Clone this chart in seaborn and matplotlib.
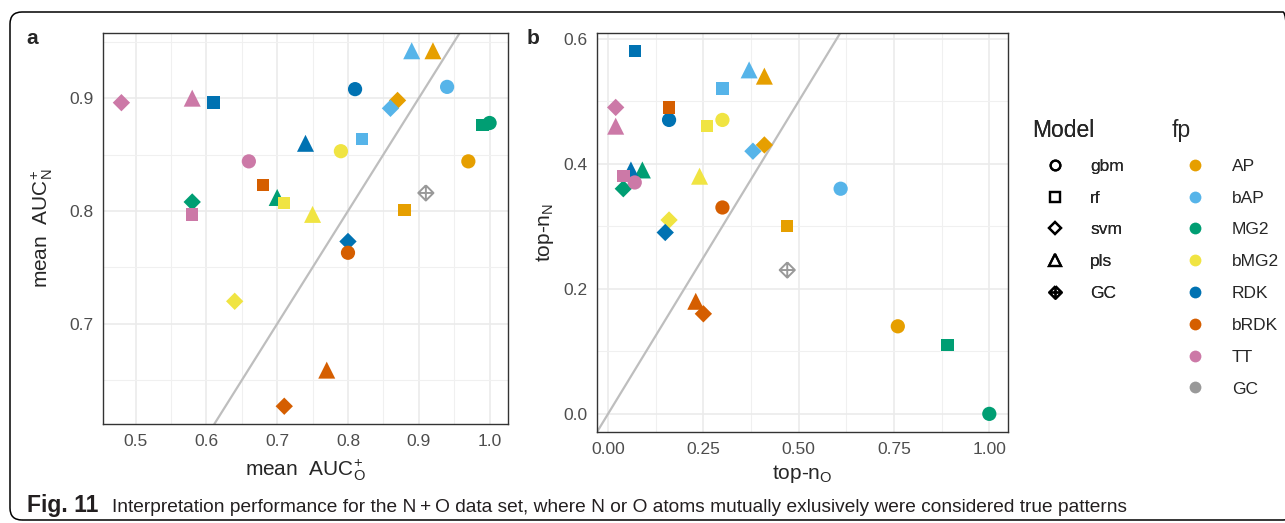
import numpy as np
import pandas as pd
import matplotlib
matplotlib.use("Agg")
import matplotlib.pyplot as plt
import seaborn as sns
from matplotlib.path import Path
from matplotlib.lines import Line2D
from matplotlib.patches import FancyBboxPatch
from matplotlib.ticker import FormatStrFormatter
from matplotlib import font_manager

# ---------------- data ----------------
fp = (["AP"] * 4 + ["bAP"] * 4 + ["MG2"] * 4 + ["bMG2"] * 4 +
      ["RDK"] * 4 + ["bRDK"] * 4 + ["TT"] * 4 + ["GC"])
model = ["gbm", "rf", "svm", "pls"] * 7 + ["GC"]

auc_o = [0.97, 0.88, 0.87, 0.92,
         0.94, 0.82, 0.86, 0.89,
         1.00, 0.99, 0.58, 0.70,
         0.79, 0.71, 0.64, 0.75,
         0.81, 0.61, 0.80, 0.74,
         0.80, 0.68, 0.71, 0.77,
         0.66, 0.58, 0.48, 0.58,
         0.91]
auc_n = [0.844, 0.801, 0.898, 0.942,
         0.910, 0.864, 0.891, 0.942,
         0.878, 0.876, 0.808, 0.812,
         0.853, 0.807, 0.720, 0.797,
         0.908, 0.896, 0.773, 0.860,
         0.763, 0.823, 0.627, 0.659,
         0.844, 0.797, 0.896, 0.900,
         0.816]
topn_o = [0.76, 0.47, 0.41, 0.41,
          0.61, 0.30, 0.38, 0.37,
          1.00, 0.89, 0.04, 0.09,
          0.30, 0.26, 0.16, 0.24,
          0.16, 0.07, 0.15, 0.06,
          0.30, 0.16, 0.25, 0.23,
          0.07, 0.04, 0.02, 0.02,
          0.47]
topn_n = [0.14, 0.30, 0.43, 0.54,
          0.36, 0.52, 0.42, 0.55,
          0.00, 0.11, 0.36, 0.39,
          0.47, 0.46, 0.31, 0.38,
          0.47, 0.58, 0.29, 0.39,
          0.33, 0.49, 0.16, 0.18,
          0.37, 0.38, 0.49, 0.46,
          0.23]

fp_levels = ["AP", "bAP", "MG2", "bMG2", "RDK", "bRDK", "TT", "GC"]
fp_colors = ["#E69F00", "#56B4E9", "#009E73", "#F0E442",
             "#0072B2", "#D55E00", "#CC79A7", "#999999"]
model_levels = ["gbm", "rf", "svm", "pls", "GC"]

df = pd.DataFrame({"fp": fp, "model": model, "auc_o": auc_o, "auc_n": auc_n,
                   "topn_o": topn_o, "topn_n": topn_n})
main = df[df["model"] != "GC"]
gc = df[df["model"] == "GC"]

# ---------------- style ----------------
sns.set_style("white")
names = {f.name for f in font_manager.fontManager.ttflist}
base_font = "Liberation Sans" if "Liberation Sans" in names else "DejaVu Sans"
plt.rcParams["font.family"] = [base_font, "DejaVu Sans"]
plt.rcParams["mathtext.default"] = "regular"

palette = dict(zip(fp_levels, fp_colors))
marker_map = {"gbm": "o", "rf": "s", "svm": "D", "pls": "^"}
size_map = {"gbm": 105, "rf": 80, "svm": 78, "pls": 150}

M, L = Path.MOVETO, Path.LINETO
gc_marker = Path([(0, 1), (1, 0), (0, -1), (-1, 0), (0, 1),
                  (0, 1), (0, -1), (-1, 0), (1, 0)],
                 [M, L, L, L, L, M, L, M, L])

W, H = 1285, 523
fig = plt.figure(figsize=(W / 100, H / 100), dpi=100)


def px_axes(left, top, right, bottom):
    return fig.add_axes([left / W, 1 - bottom / H, (right - left) / W, (bottom - top) / H])


ax_a = px_axes(103, 33, 508, 424)
ax_b = px_axes(597, 33, 1008, 432)


def expand(vals):
    lo, hi = min(vals), max(vals)
    pad = 0.05 * (hi - lo)
    return lo - pad, hi + pad


def draw_panel(ax, xcol, ycol, xticks, yticks, xfmt, yfmt):
    ax.axline((0, 0), slope=1, color="#BEBEBE", lw=1.6, zorder=2)
    sns.scatterplot(data=main, x=xcol, y=ycol, hue="fp", hue_order=fp_levels[:-1],
                    palette=palette, style="model", style_order=model_levels[:-1],
                    markers=marker_map, size="model", sizes=size_map,
                    linewidth=0, legend=False, ax=ax, zorder=3)
    sns.scatterplot(data=gc, x=xcol, y=ycol, marker=gc_marker, s=120,
                    facecolor="none", edgecolor="#999999", linewidth=1.4,
                    legend=False, ax=ax, zorder=3)
    ax.set_xticks(xticks)
    ax.set_yticks(yticks)
    xstep = xticks[1] - xticks[0]
    ystep = yticks[1] - yticks[0]
    ax.set_xticks([xticks[0] - xstep / 2] + [t + xstep / 2 for t in xticks], minor=True)
    ax.set_yticks([yticks[0] - ystep / 2] + [t + ystep / 2 for t in yticks], minor=True)
    ax.set_xlim(*expand(df[xcol]))
    ax.set_ylim(*expand(df[ycol]))
    ax.xaxis.set_major_formatter(FormatStrFormatter(xfmt))
    ax.yaxis.set_major_formatter(FormatStrFormatter(yfmt))
    ax.grid(which="major", color="#EBEBEB", lw=1.2, zorder=0)
    ax.grid(which="minor", color="#F0F0F0", lw=0.8, zorder=0)
    ax.set_axisbelow(True)
    ax.tick_params(which="major", length=4, width=1, color="#333333",
                   labelcolor="#4D4D4D", labelsize=12.5, pad=3)
    ax.tick_params(which="minor", length=0)
    for s in ax.spines.values():
        s.set_color("#333333")
        s.set_linewidth(1.0)


draw_panel(ax_a, "auc_o", "auc_n", [0.5, 0.6, 0.7, 0.8, 0.9, 1.0], [0.7, 0.8, 0.9], "%.1f", "%.1f")
draw_panel(ax_b, "topn_o", "topn_n", [0.0, 0.25, 0.5, 0.75, 1.0], [0.0, 0.2, 0.4, 0.6], "%.2f", "%.1f")

ax_a.set_xlabel(r"mean  AUC$_{O}^{+}$", fontsize=15, va="center")
ax_a.set_ylabel(r"mean  AUC$_{N}^{+}$", fontsize=15, va="center")
ax_b.set_xlabel(r"top-n$_{O}$", fontsize=15, va="center")
ax_b.set_ylabel(r"top-n$_{N}$", fontsize=15, va="center")
ax_a.xaxis.set_label_coords((305 - 103) / 405, (424 - 470) / 391)
ax_a.yaxis.set_label_coords((42 - 103) / 405, 0.5)
ax_b.xaxis.set_label_coords((802 - 597) / 411, (432 - 474) / 399)
ax_b.yaxis.set_label_coords((545 - 597) / 411, 0.5)

fig.text(26 / W, 1 - 38 / H, "a", fontsize=15, fontweight="bold", va="center", ha="left")
fig.text(527 / W, 1 - 38 / H, "b", fontsize=15, fontweight="bold", va="center", ha="left")

# ---------------- legends ----------------
model_handles = [
    Line2D([], [], ls="none", marker="o", markersize=7, mfc="none", mec="black", mew=1.6),
    Line2D([], [], ls="none", marker="s", markersize=6.5, mfc="none", mec="black", mew=1.6),
    Line2D([], [], ls="none", marker="D", markersize=6, mfc="none", mec="black", mew=1.6),
    Line2D([], [], ls="none", marker="^", markersize=8, mfc="none", mec="black", mew=1.6),
    Line2D([], [], ls="none", marker=gc_marker, markersize=9, mfc="none", mec="black", mew=1.6),
]
fp_handles = [Line2D([], [], ls="none", marker="o", markersize=8.5, mfc=c, mec="none")
              for c in fp_colors]

fs = 12.5
em = fs * 100 / 72


def add_legend(handles, labels, title, left_px, top_px, textpad):
    leg = fig.legend(handles, labels, title=title, loc="upper left",
                     bbox_to_anchor=((left_px - em) / W, 1 - (top_px - em) / H),
                     frameon=False, fontsize=fs, title_fontsize=16.5,
                     borderpad=1.0, borderaxespad=0, handlelength=46 / em,
                     handletextpad=textpad / em, labelspacing=0.96, numpoints=1,
                     alignment="left")
    return leg


leg1 = add_legend(model_handles, model_levels, "Model", 1032, 119, 12)
add_legend(fp_handles, fp_levels, "fp", 1172, 119, 14)
fig.add_artist(leg1)

# ---------------- caption & frame ----------------
fig.text(27 / W, 1 - 512 / H, "Fig. 11", fontweight="bold",
         fontsize=16.5, color="#231F20", va="baseline")
fig.text(112 / W, 1 - 512 / H,
         "Interpretation performance for the N\u2009+\u2009O data set, where N or O atoms mutually "
         "exlusively were considered true patterns",
         fontsize=13.8, color="#231F20", va="baseline")

frame = FancyBboxPatch((0.10, 0.03), W / 100, 5.08,
                       boxstyle="round,pad=0,rounding_size=0.12",
                       transform=fig.dpi_scale_trans, fill=False,
                       edgecolor="black", lw=1.1, clip_on=False)
fig.add_artist(frame)

fig.savefig("out.png", dpi=100)
